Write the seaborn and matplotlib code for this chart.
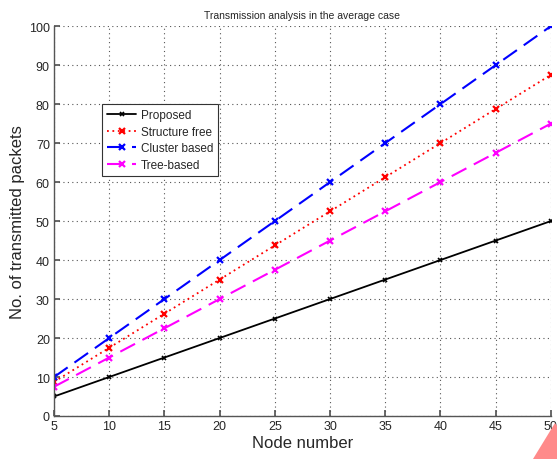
import matplotlib
matplotlib.use("Agg")
import matplotlib.pyplot as plt
import seaborn as sns
import pandas as pd
from matplotlib.patches import Polygon

nodes = [5, 10, 15, 20, 25, 30, 35, 40, 45, 50]
proposed = [5, 10, 15, 20, 25, 30, 35, 40, 45, 50]
structure_free = [8.75, 17.5, 26.25, 35, 43.75, 52.5, 61.25, 70, 78.75, 87.5]
cluster_based = [10, 20, 30, 40, 50, 60, 70, 80, 90, 100]
tree_based = [7.5, 15, 22.5, 30, 37.5, 45, 52.5, 60, 67.5, 75]

series = {
    "Proposed": proposed,
    "Structure free": structure_free,
    "Cluster based": cluster_based,
    "Tree-based": tree_based,
}
styles = {
    "Proposed": dict(color="black", linestyle="-", lw=1.3),
    "Structure free": dict(color="#ff0000", linestyle=(0, (1, 2)), lw=1.3),
    "Cluster based": dict(color="#0000ff", linestyle=(0, (8, 4)), lw=1.5),
    "Tree-based": dict(color="#ff00ff", linestyle=(0, (8, 4)), lw=1.5),
}

sns.set_theme(style="white")
plt.rcParams['font.family'] = ['Liberation Sans', 'DejaVu Sans']

fig = plt.figure(figsize=(5.57, 4.60), dpi=100)
ax = fig.add_axes([0.097, 0.0935, 0.892, 0.8475])

for name, vals in series.items():
    df = pd.DataFrame({"x": nodes, "y": vals})
    st = styles[name]
    sns.lineplot(data=df, x="x", y="y", ax=ax, color=st["color"], linewidth=st["lw"],
                 linestyle=st["linestyle"], marker="x", markersize=5 if name != "Proposed" else 3.5,
                 markeredgewidth=1.6 if name != "Proposed" else 1.2, markeredgecolor=st["color"],
                 label=name)

ax.set_xlim(5, 50)
ax.set_ylim(0, 100)
ax.set_xticks(nodes)
ax.set_yticks(range(0, 101, 10))
ax.grid(True, linestyle=(0, (1, 3)), color="#555555", linewidth=0.8)
for s in ["top", "right"]:
    ax.spines[s].set_visible(False)
for s in ["left", "bottom"]:
    ax.spines[s].set_color("#555555")
    ax.spines[s].set_linewidth(1.0)
ax.tick_params(axis="both", direction="in", length=4, labelsize=9, color="#555555",
               left=True, bottom=True, pad=3)
ax.set_title("Transmission analysis in the average case", fontsize=7.5, pad=6)
ax.set_xlabel("Node number", fontsize=12, labelpad=2)
ax.set_ylabel("No. of transmitted packets", fontsize=12, labelpad=3)

leg = ax.legend(loc="upper left", bbox_to_anchor=(0.085, 0.815), fontsize=8.5,
                frameon=True, fancybox=False, edgecolor="#333333", framealpha=1,
                handlelength=2.4, borderpad=0.45, labelspacing=0.38, handletextpad=0.4)
leg.get_frame().set_linewidth(0.8)

tri = Polygon([[533, 0], [555, 36], [557, 33], [557, 0]], closed=True,
              transform=None, facecolor="#ff8a8a", edgecolor="none")
fig.patches.append(tri)

fig.savefig("out.png", dpi=100)
